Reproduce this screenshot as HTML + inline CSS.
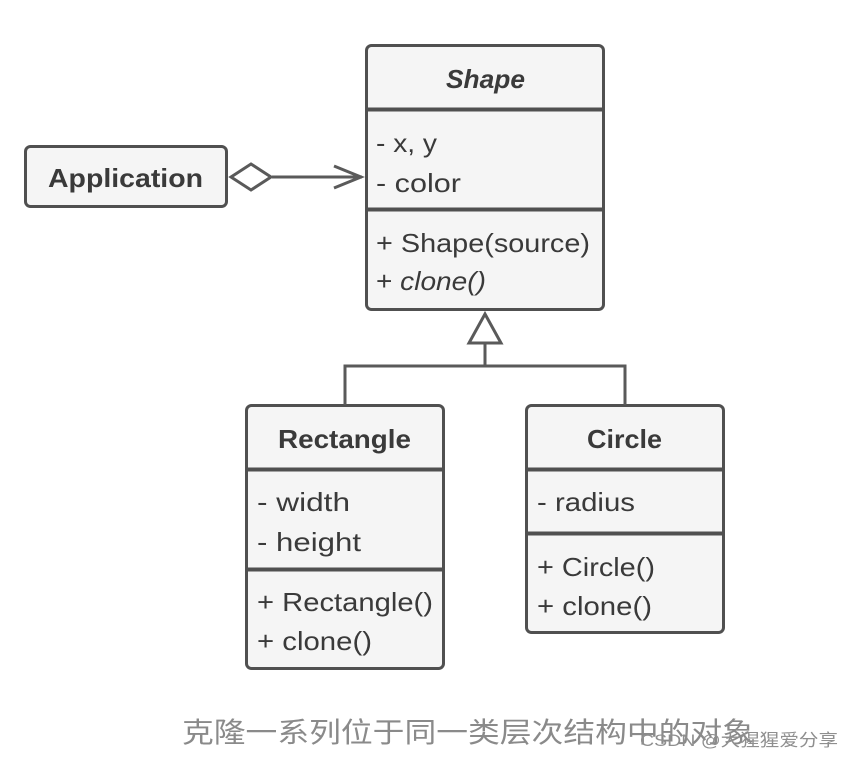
<!DOCTYPE html>
<html><head><meta charset="utf-8"><style>html,body{margin:0;padding:0;background:#fff}svg{display:block}</style></head>
<body>
<svg width="852" height="758" viewBox="0 0 852 758" xmlns="http://www.w3.org/2000/svg" font-family="'Liberation Sans', 'Noto Sans CJK SC', sans-serif">
<g fill="#f5f5f5" stroke="#505050" stroke-width="3">
  <rect x="25.5" y="146.5" width="201" height="60" rx="5"/>
  <rect x="366.5" y="45.5" width="237" height="264" rx="5"/>
  <rect x="246.5" y="405.5" width="197" height="263" rx="5"/>
  <rect x="526.5" y="405.5" width="197" height="227" rx="5"/>
</g>
<g stroke="#505050" stroke-width="4" fill="none">
  <line x1="368" y1="109.5" x2="602" y2="109.5"/>
  <line x1="368" y1="209.5" x2="602" y2="209.5"/>
  <line x1="248" y1="469.5" x2="442" y2="469.5"/>
  <line x1="248" y1="569.5" x2="442" y2="569.5"/>
  <line x1="528" y1="469.5" x2="722" y2="469.5"/>
  <line x1="528" y1="533.5" x2="722" y2="533.5"/>
</g>
<g stroke="#5a5a5a" stroke-width="3" fill="none">
  <line x1="272" y1="177" x2="362" y2="177"/>
  <polyline points="334,166 361,177 334,188"/>
  <polygon points="231,177 251,164 271,177 251,190" fill="#fff"/>
  <polygon points="485,314 501,343 469,343" fill="#fff"/>
  <line x1="485" y1="343" x2="485" y2="366"/>
  <polyline points="345,405 345,366 625,366 625,405"/>
</g>
<g fill="#3a3a3a" font-size="26">
  <text x="48" y="187" font-weight="bold" textLength="155" lengthAdjust="spacingAndGlyphs">Application</text>
  <text x="446" y="88" font-weight="bold" font-style="italic" textLength="79" lengthAdjust="spacingAndGlyphs">Shape</text>
  <text x="376" y="152" textLength="61" lengthAdjust="spacingAndGlyphs">- x, y</text>
  <text x="376" y="192" textLength="85" lengthAdjust="spacingAndGlyphs">- color</text>
  <text x="376" y="252" textLength="214" lengthAdjust="spacingAndGlyphs">+ Shape(source)</text>
  <text x="376" y="290" textLength="110" lengthAdjust="spacingAndGlyphs">+ <tspan font-style="italic">clone()</tspan></text>
  <text x="278" y="448" font-weight="bold" textLength="133" lengthAdjust="spacingAndGlyphs">Rectangle</text>
  <text x="257" y="511" textLength="93" lengthAdjust="spacingAndGlyphs">- width</text>
  <text x="257" y="551" textLength="104" lengthAdjust="spacingAndGlyphs">- height</text>
  <text x="257" y="611" textLength="176" lengthAdjust="spacingAndGlyphs">+ Rectangle()</text>
  <text x="257" y="650" textLength="115" lengthAdjust="spacingAndGlyphs">+ clone()</text>
  <text x="587" y="448" font-weight="bold" textLength="75" lengthAdjust="spacingAndGlyphs">Circle</text>
  <text x="537" y="511" textLength="98" lengthAdjust="spacingAndGlyphs">- radius</text>
  <text x="537" y="576" textLength="118" lengthAdjust="spacingAndGlyphs">+ Circle()</text>
  <text x="537" y="615" textLength="115" lengthAdjust="spacingAndGlyphs">+ clone()</text>
</g>
<text x="182" y="742" font-size="28" fill="#8a8a8a" textLength="572" lengthAdjust="spacingAndGlyphs">克隆一系列位于同一类层次结构中的对象</text>
<text x="640" y="746" font-size="17" fill="#8f8f8f" textLength="198" lengthAdjust="spacingAndGlyphs">CSDN @大猩猩爱分享</text>
</svg>
</body></html>
